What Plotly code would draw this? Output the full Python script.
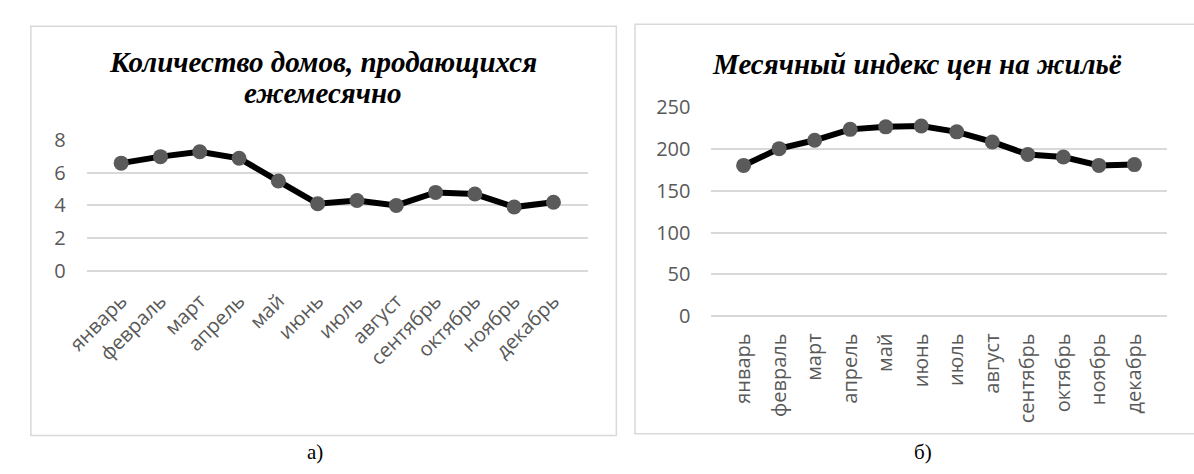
import plotly.graph_objects as go

W, H = 1194, 474

months = ["январь", "февраль", "март", "апрель", "май", "июнь",
          "июль", "август", "сентябрь", "октябрь", "ноябрь", "декабрь"]
houses_sold = [6.6, 7.0, 7.3, 6.9, 5.5, 4.1, 4.3, 4.0, 4.8, 4.7, 3.9, 4.2]
price_index = [180, 200, 210, 223, 226, 227, 220, 208, 193, 190, 180, 181]

title_left_1 = "Количество домов, продающихся"
title_left_2 = "ежемесячно"
title_right = "Месячный индекс цен на жильё"
caption_left = "а)"
caption_right = "б)"

TICK_FONT = dict(family="Open Sans", size=20, color="#595959")
TITLE_FONT = dict(family="Liberation Serif", size=29, color="#000000",
                  weight="bold", style="italic")
CAPTION_FONT = dict(family="Liberation Serif", size=21, color="#000000")
GRID = "#d9d9d9"
LINE = dict(color="#000000", width=6)
MARKER = dict(color="#5a5a5a", size=15, line=dict(width=0))


def px_x(x):
    return x / W


def px_y(y):
    return 1 - y / H


def label(text, x, y, font):
    return dict(text=text, xref="paper", yref="paper", x=px_x(x), y=px_y(y),
                xanchor="center", yanchor="middle", showarrow=False,
                font=font)


fig = go.Figure()

fig.add_trace(go.Scatter(x=months, y=houses_sold, mode="lines+markers",
                         line=LINE, marker=MARKER, cliponaxis=False,
                         xaxis="x", yaxis="y", showlegend=False))
fig.add_trace(go.Scatter(x=months, y=price_index, mode="lines+markers",
                         line=LINE, marker=MARKER, cliponaxis=False,
                         xaxis="x2", yaxis="y2", showlegend=False))

common_x = dict(showgrid=False, zeroline=False, showline=False, ticks="",
                tickfont=TICK_FONT, fixedrange=True)
common_y = dict(showgrid=True, gridcolor=GRID, gridwidth=1.5, zeroline=True,
                zerolinecolor=GRID, zerolinewidth=1.5, showline=False,
                ticks="", tickfont=TICK_FONT, fixedrange=True,
                ticklabelstandoff=20)

fig.update_layout(
    width=W, height=H,
    margin=dict(l=0, r=0, t=0, b=0),
    paper_bgcolor="white", plot_bgcolor="white",
    xaxis=dict(domain=[px_x(65), px_x(576)], anchor="y", tickangle=-45,
               ticklabelstandoff=14, **common_x),
    yaxis=dict(domain=[px_y(272), px_y(134)], anchor="x", range=[0, 8],
               dtick=2, **common_y),
    xaxis2=dict(domain=[px_x(702), px_x(1166)], anchor="y2", tickangle=-90,
                ticklabelstandoff=12, **common_x),
    yaxis2=dict(domain=[px_y(320.7), px_y(98.3)], anchor="x2",
                range=[0, 250], dtick=50, **common_y),
    shapes=[
        dict(type="rect", xref="paper", yref="paper",
             x0=px_x(8), x1=px_x(605), y0=px_y(447), y1=px_y(13),
             line=dict(color=GRID, width=1.5), fillcolor="rgba(0,0,0,0)",
             layer="below"),
        dict(type="rect", xref="paper", yref="paper",
             x0=px_x(624), x1=px_x(1205), y0=px_y(445), y1=px_y(11),
             line=dict(color=GRID, width=1.5), fillcolor="rgba(0,0,0,0)",
             layer="below"),
    ],
    annotations=[
        label(title_left_1, 306, 51, TITLE_FONT),
        label(title_left_2, 306, 84, TITLE_FONT),
        label(title_right, 912, 53, TITLE_FONT),
        label(caption_left, 298, 464, CAPTION_FONT),
        label(caption_right, 918, 464, CAPTION_FONT),
    ],
)

fig.write_html("out.html")
